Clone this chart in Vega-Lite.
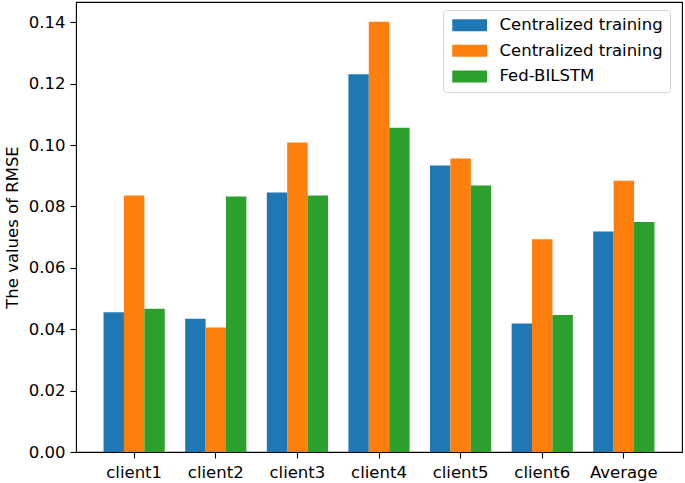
{
  "$schema": "https://vega.github.io/schema/vega-lite/v6.json",
  "width": 606,
  "height": 450,
  "autosize": {"type": "none"},
  "padding": {"left": 76, "top": 2, "right": 3, "bottom": 31},
  "background": "white",
  "data": {
    "values": [
      {"client": "client1", "method": "A", "rmse": 0.0455},
      {"client": "client1", "method": "B", "rmse": 0.0836},
      {"client": "client1", "method": "C", "rmse": 0.0467},
      {"client": "client2", "method": "A", "rmse": 0.0434},
      {"client": "client2", "method": "B", "rmse": 0.0406},
      {"client": "client2", "method": "C", "rmse": 0.0832},
      {"client": "client3", "method": "A", "rmse": 0.0845},
      {"client": "client3", "method": "B", "rmse": 0.1008},
      {"client": "client3", "method": "C", "rmse": 0.0836},
      {"client": "client4", "method": "A", "rmse": 0.1231},
      {"client": "client4", "method": "B", "rmse": 0.1402},
      {"client": "client4", "method": "C", "rmse": 0.1056},
      {"client": "client5", "method": "A", "rmse": 0.0933},
      {"client": "client5", "method": "B", "rmse": 0.0956},
      {"client": "client5", "method": "C", "rmse": 0.0868},
      {"client": "client6", "method": "A", "rmse": 0.0419},
      {"client": "client6", "method": "B", "rmse": 0.0693},
      {"client": "client6", "method": "C", "rmse": 0.0446},
      {"client": "Average", "method": "A", "rmse": 0.0718},
      {"client": "Average", "method": "B", "rmse": 0.0884},
      {"client": "Average", "method": "C", "rmse": 0.0749}
    ]
  },
  "mark": {"type": "bar"},
  "encoding": {
    "x": {
      "field": "client",
      "type": "nominal",
      "sort": null,
      "scale": {"paddingInner": 0.25, "paddingOuter": 0.3375},
      "axis": {
        "title": null,
        "labelAngle": 0,
        "labelFontSize": 16.5,
        "labelPadding": 6,
        "tickSize": 6,
        "domain": false
      }
    },
    "xOffset": {
      "field": "method",
      "type": "nominal",
      "scale": {"paddingInner": 0, "paddingOuter": 0}
    },
    "y": {
      "field": "rmse",
      "type": "quantitative",
      "scale": {"domain": [0, 0.1466], "nice": false},
      "axis": {
        "title": "The values of RMSE",
        "titleFontSize": 16.5,
        "titleFontWeight": "normal",
        "titlePadding": 8,
        "values": [0, 0.02, 0.04, 0.06, 0.08, 0.1, 0.12, 0.14],
        "format": ".2f",
        "labelFontSize": 16.5,
        "labelPadding": 5,
        "tickSize": 6,
        "grid": false,
        "domain": false
      }
    },
    "color": {
      "field": "method",
      "type": "nominal",
      "scale": {"domain": ["A", "B", "C"], "range": ["#1f77b4", "#ff7f0e", "#2ca02c"]},
      "legend": {
        "title": null,
        "orient": "none",
        "legendX": 367,
        "legendY": 8,
        "padding": 7,
        "fillColor": "white",
        "strokeColor": "#d3d3d3",
        "cornerRadius": 3,
        "symbolType": "M-1,-1H4.8V1H-1Z",
        "symbolSize": 144,
        "symbolStrokeWidth": 0,
        "symbolOpacity": 1,
        "labelFontSize": 16.5,
        "labelOffset": 33,
        "labelLimit": 300,
        "rowPadding": 8.6,
        "labelExpr": "datum.label == 'C' ? 'Fed-BILSTM' : 'Centralized training'"
      }
    }
  },
  "config": {
    "font": "DejaVu Sans",
    "view": {"stroke": "black", "strokeWidth": 1.1},
    "axis": {
      "labelColor": "black",
      "titleColor": "black",
      "tickColor": "black",
      "tickWidth": 1.1,
      "labelFont": "DejaVu Sans",
      "titleFont": "DejaVu Sans"
    },
    "legend": {"labelColor": "black", "labelFont": "DejaVu Sans"}
  }
}
